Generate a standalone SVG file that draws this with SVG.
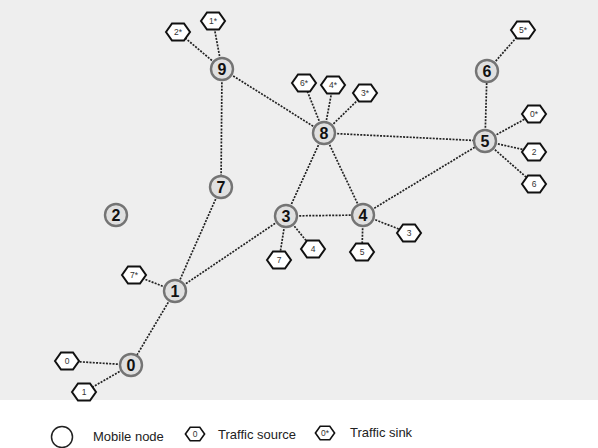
<svg xmlns="http://www.w3.org/2000/svg" width="598" height="448" viewBox="0 0 598 448">
<defs>
<polygon id="hx" points="-12,0 -6,-8.5 6,-8.5 12,0 6,8.5 -6,8.5"/>
<style>
.bg{fill:#eeeeee}
.e{stroke:#222;stroke-width:1.7;stroke-dasharray:2 1.3;fill:none}
.n circle{fill:#e0e0e0;stroke:#747474;stroke-width:2.4}
.n text{font-family:"Liberation Sans",Arial,sans-serif;font-weight:bold;font-size:16px;fill:#111;text-anchor:middle}
.h use{fill:#fff;stroke:#111;stroke-width:2}
.h text{font-family:"Liberation Sans",Arial,sans-serif;font-size:8.5px;fill:#333;text-anchor:middle}
.lg{font-family:"Liberation Sans",Arial,sans-serif;font-size:13px;fill:#222}
</style>
</defs>
<rect class="bg" x="0" y="0" width="598" height="400"/>
<g id="connectors">
<line class="e" x1="222" y1="69" x2="178" y2="32"/>
<line class="e" x1="222" y1="69" x2="213" y2="21"/>
<line class="e" x1="222" y1="69" x2="324" y2="133"/>
<line class="e" x1="222" y1="69" x2="221" y2="187"/>
<line class="e" x1="221" y1="187" x2="175" y2="291"/>
<line class="e" x1="175" y1="291" x2="134" y2="275"/>
<line class="e" x1="175" y1="291" x2="286" y2="216"/>
<line class="e" x1="175" y1="291" x2="131" y2="365"/>
<line class="e" x1="131" y1="365" x2="67" y2="361"/>
<line class="e" x1="131" y1="365" x2="84" y2="392"/>
<line class="e" x1="286" y1="216" x2="324" y2="133"/>
<line class="e" x1="286" y1="216" x2="363" y2="215"/>
<line class="e" x1="286" y1="216" x2="279" y2="260"/>
<line class="e" x1="286" y1="216" x2="313" y2="249"/>
<line class="e" x1="324" y1="133" x2="363" y2="215"/>
<line class="e" x1="324" y1="133" x2="485" y2="141"/>
<line class="e" x1="324" y1="133" x2="304" y2="83"/>
<line class="e" x1="324" y1="133" x2="333" y2="85"/>
<line class="e" x1="324" y1="133" x2="365" y2="93"/>
<line class="e" x1="363" y1="215" x2="485" y2="141"/>
<line class="e" x1="363" y1="215" x2="362" y2="252"/>
<line class="e" x1="363" y1="215" x2="409" y2="233"/>
<line class="e" x1="485" y1="141" x2="487" y2="71"/>
<line class="e" x1="487" y1="71" x2="523" y2="30"/>
<line class="e" x1="485" y1="141" x2="534" y2="114"/>
<line class="e" x1="485" y1="141" x2="534" y2="152"/>
<line class="e" x1="485" y1="141" x2="534" y2="184"/>
</g>
<g id="sources" class="h">
<g id="s2s"><use href="#hx" x="178" y="32"/><text x="178" y="35">2*</text></g>
<g id="s1s"><use href="#hx" x="213" y="21"/><text x="213" y="24">1*</text></g>
<g id="s6s"><use href="#hx" x="304" y="83"/><text x="304" y="86">6*</text></g>
<g id="s4s"><use href="#hx" x="333" y="85"/><text x="333" y="88">4*</text></g>
<g id="s3s"><use href="#hx" x="365" y="93"/><text x="365" y="96">3*</text></g>
<g id="s5s"><use href="#hx" x="523" y="30"/><text x="523" y="33">5*</text></g>
<g id="s0s"><use href="#hx" x="534" y="114"/><text x="534" y="117">0*</text></g>
<g id="s2"><use href="#hx" x="534" y="152"/><text x="534" y="155">2</text></g>
<g id="s6"><use href="#hx" x="534" y="184"/><text x="534" y="187">6</text></g>
<g id="s3"><use href="#hx" x="409" y="233"/><text x="409" y="236">3</text></g>
<g id="s5"><use href="#hx" x="362" y="252"/><text x="362" y="255">5</text></g>
<g id="s4"><use href="#hx" x="313" y="249"/><text x="313" y="252">4</text></g>
<g id="s7"><use href="#hx" x="279" y="260"/><text x="279" y="263">7</text></g>
<g id="s7s"><use href="#hx" x="134" y="275"/><text x="134" y="278">7*</text></g>
<g id="s0"><use href="#hx" x="67" y="361"/><text x="67" y="364">0</text></g>
<g id="s1"><use href="#hx" x="84" y="392"/><text x="84" y="395">1</text></g>
</g>
<g id="nodes" class="n">
<g id="n9"><circle cx="222" cy="69" r="11"/><text x="222" y="74.5">9</text></g>
<g id="n8"><circle cx="324" cy="133" r="11"/><text x="324" y="138.5">8</text></g>
<g id="n6"><circle cx="487" cy="71" r="11"/><text x="487" y="76.5">6</text></g>
<g id="n5"><circle cx="485" cy="141" r="11"/><text x="485" y="146.5">5</text></g>
<g id="n7"><circle cx="221" cy="187" r="11"/><text x="221" y="192.5">7</text></g>
<g id="n3"><circle cx="286" cy="216" r="11"/><text x="286" y="221.5">3</text></g>
<g id="n4"><circle cx="363" cy="215" r="11"/><text x="363" y="220.5">4</text></g>
<g id="n2"><circle cx="116" cy="215" r="11"/><text x="116" y="220.5">2</text></g>
<g id="n1"><circle cx="175" cy="291" r="11"/><text x="175" y="296.5">1</text></g>
<g id="n0"><circle cx="131" cy="365" r="11"/><text x="131" y="370.5">0</text></g>
</g>
<g id="legend">
<circle cx="62" cy="437" r="10.5" fill="#fff" stroke="#222" stroke-width="1.5"/>
<text class="lg" x="93" y="441">Mobile node</text>
<g class="h"><use href="#hx" x="195" y="434" transform="translate(195 434) scale(0.8) translate(-195 -434)"/><text x="195" y="437">0</text></g>
<text class="lg" x="218" y="439">Traffic source</text>
<g class="h"><use href="#hx" x="325" y="433" transform="translate(325 433) scale(0.8) translate(-325 -433)"/><text x="325" y="436">0*</text></g>
<text class="lg" x="350" y="437">Traffic sink</text>
</g>
</svg>
